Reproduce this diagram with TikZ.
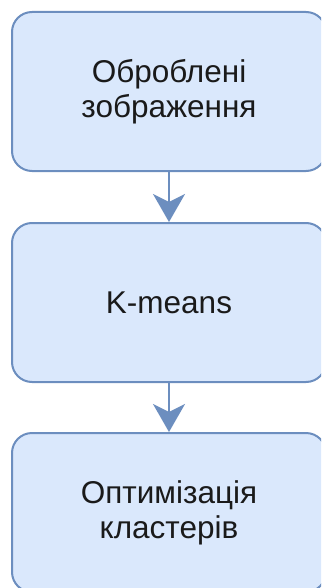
\documentclass[tikz,border=0pt]{standalone}
\usepackage{fontspec}
\setmainfont{Liberation Sans}
\usetikzlibrary{arrows.meta}
\definecolor{boxfill}{HTML}{DAE8FC}
\definecolor{boxline}{HTML}{6C8EBF}
\definecolor{txt}{HTML}{1A1A1A}
\tikzset{
  stepbox/.style={draw=boxline, fill=boxfill, line width=2pt, rounded corners=20pt,
    minimum width=314pt, minimum height=159pt, align=center, text=txt,
    font=\fontsize{31.5}{35}\selectfont, inner sep=0pt},
  flow/.style={draw=boxline, line width=2pt,
    -{Stealth[length=28pt, width=32pt, inset=8pt, fill=boxline]}}
}
\begin{document}
\begin{tikzpicture}[x=1pt, y=-1pt]
  \useasboundingbox (0,0) rectangle (321,588);
  \clip (0,0) rectangle (321,588);
  \node[stepbox] (b1) at (169,91.5) {Оброблені\\зображення};
  \node[stepbox] (b2) at (169,302.5) {K-means};
  \node[stepbox] (b3) at (169,512.5) {Оптимізація\\кластерів};
  \draw[flow] (b1) -- (b2);
  \draw[flow] (b2) -- (b3);
\end{tikzpicture}
\end{document}
